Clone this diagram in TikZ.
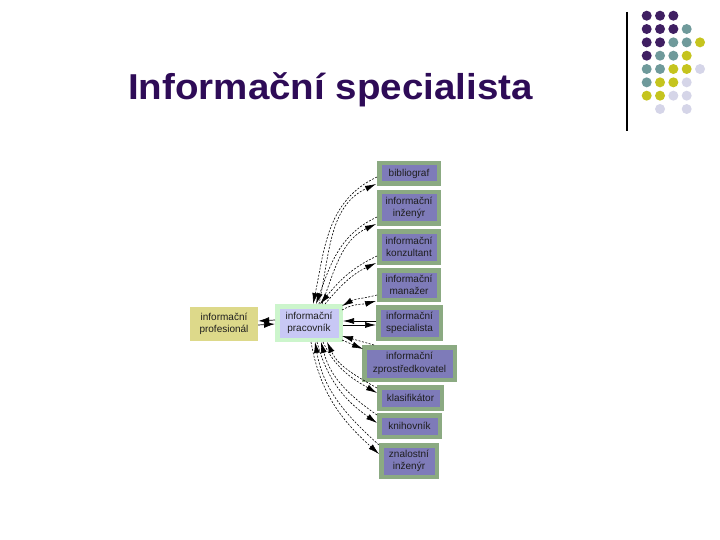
\documentclass[tikz,border=0pt]{standalone}
\usepackage{fontspec}
\setmainfont{Liberation Sans}
\usetikzlibrary{arrows.meta}
\definecolor{titlec}{HTML}{2E0B57}
\definecolor{gOut}{HTML}{8BAA82}
\definecolor{lIn}{HTML}{7E7BB9}
\definecolor{pOut}{HTML}{CCF5CC}
\definecolor{pIn}{HTML}{C8C8F5}
\definecolor{khaki}{HTML}{DDD98A}
\definecolor{dotP}{HTML}{3F1F62}
\definecolor{dotT}{HTML}{6F9A9B}
\definecolor{dotY}{HTML}{C5C41E}
\definecolor{dotL}{HTML}{D5D5E8}
\definecolor{txt}{HTML}{1E1E1E}
\tikzset{
  boxfont/.style={font=\fontsize{10}{12.5}\selectfont},
  rbox/.style={draw=gOut, fill=lIn, line width=4.5pt, inner sep=0pt, align=center,
    text=txt, boxfont},
  conn/.style={line width=0.6pt, dash pattern=on 2pt off 1.5pt, black},
  solidc/.style={line width=0.7pt, black},
  hd/.style={-{Latex[length=11pt,width=6pt]}}
}
\begin{document}
\begin{tikzpicture}[x=1pt,y=-1pt]
\useasboundingbox (0,0) rectangle (720,540);
% title
\node[anchor=base west, inner sep=0pt, text=titlec, font=\fontsize{36}{40}\selectfont\bfseries] (title) at (128,100) {\scalebox{1.07}[1]{Informační specialista}};
% vertical rule
\draw[line width=1.2pt, black] (627,12) coordinate (r1) -- (627,131) coordinate (r2);
% dots
\foreach \c/\x/\y in {dotP/0/0,dotP/1/0,dotP/2/0,
  dotP/0/1,dotP/1/1,dotP/2/1,dotT/3/1,
  dotP/0/2,dotP/1/2,dotT/2/2,dotT/3/2,dotY/4/2,
  dotP/0/3,dotT/1/3,dotT/2/3,dotY/3/3,
  dotT/0/4,dotT/1/4,dotY/2/4,dotY/3/4,dotL/4/4,
  dotT/0/5,dotY/1/5,dotY/2/5,dotL/3/5,
  dotY/0/6,dotY/1/6,dotL/2/6,dotL/3/6,
  dotL/1/7,dotL/3/7}
  \fill[\c] ({646.7+13.33*\x},{15.7+13.33*\y}) circle[radius=5pt];
% boxes
\node[fill=khaki, inner sep=0pt, minimum width=68pt, minimum height=34pt, align=center, text=txt, boxfont] (pf) at (224,324) {informační\\profesionál};
\node[rbox, draw=pOut, fill=pIn, minimum width=63.5pt, minimum height=33.5pt] (pr) at (309,323) {informační\\pracovník};
\node[rbox, minimum width=59.5pt, minimum height=20.5pt] (b1) at (409,173.5) {bibliograf};
\node[rbox, minimum width=59.5pt, minimum height=31.5pt] (b2) at (409,208) {informační\\inženýr};
\node[rbox, minimum width=59.5pt, minimum height=31.5pt] (b3) at (409,247) {informační\\konzultant};
\node[rbox, minimum width=59.5pt, minimum height=29.5pt] (b4) at (409,285) {informační\\manažer};
\node[rbox, minimum width=62.5pt, minimum height=31.5pt] (b5) at (409.5,323) {informační\\specialista};
\node[rbox, minimum width=90.5pt, minimum height=32.5pt] (b6) at (409.5,363.5) {informační\\zprostředkovatel};
\node[rbox, minimum width=62.5pt, minimum height=21.5pt] (b7) at (410.5,398) {klasifikátor};
\node[rbox, minimum width=60.5pt, minimum height=21.5pt] (b8) at (409.5,426) {knihovník};
\node[rbox, minimum width=55.5pt, minimum height=31.5pt] (b9) at (409,461) {znalostní\\inženýr};
% left pair
\draw[solidc, -{Latex[length=11pt,width=6.5pt]}] ([yshift=3pt]pr.west) -- ([yshift=3pt]pf.east);
\draw[solidc, -{Latex[length=11pt,width=6.5pt]}] ([yshift=-1pt]pf.east) -- ([yshift=-1pt]pr.west);
% top group
\draw[conn, hd] ([yshift=9pt]b1.south west) to[out=205,in=78] ([xshift=4pt]pr.north);
\draw[conn, hd] ([xshift=10pt]pr.north) to[out=78,in=205] ([xshift=-1pt,yshift=2pt]b1.south west);
\draw[conn, hd] ([yshift=9pt]b2.south west) to[out=205,in=70] ([xshift=7pt]pr.north);
\draw[conn, hd] ([xshift=13pt]pr.north) to[out=70,in=205] ([xshift=-1pt,yshift=2pt]b2.south west);
\draw[conn, hd] ([yshift=9pt]b3.south west) to[out=205,in=50] ([xshift=11pt]pr.north);
\draw[conn, hd] ([xshift=16pt]pr.north) to[out=50,in=205] ([xshift=-1pt,yshift=2pt]b3.south west);
\draw[conn, hd] ([yshift=7pt]b4.south west) to[out=195,in=30] ([xshift=-1pt,yshift=-2pt]pr.north east);
\draw[conn, hd] ([xshift=-1pt,yshift=-6pt]pr.north east) to[out=30,in=195] ([xshift=-1pt,yshift=1pt]b4.south west);
% specialista (solid)
\draw[solidc, hd] ([yshift=2pt]b5.west) -- ([yshift=2pt]pr.east);
\draw[solidc, hd] ([yshift=-2pt]pr.east) -- ([yshift=-2pt]b5.west);
% zprostredkovatel
\draw[conn, hd] ([xshift=12pt]b6.north west) -- ([xshift=-1pt,yshift=6pt]pr.south east);
\draw[conn, hd] ([xshift=-1pt,yshift=2pt]pr.south east) -- ([xshift=1pt,yshift=-4pt]b6.north west);
% bottom group
\draw[conn, hd] ([yshift=-3pt]b7.north west) to[out=150,in=-65] ([xshift=18pt]pr.south);
\draw[conn, hd] ([xshift=14pt]pr.south) to[out=-65,in=150] ([yshift=-8pt]b7.north west);
\draw[conn, hd] ([yshift=-2pt]b8.north west) to[out=145,in=-75] ([xshift=12pt]pr.south);
\draw[conn, hd] ([xshift=8pt]pr.south) to[out=-75,in=145] ([yshift=-10pt]b8.north west);
\draw[conn, hd] ([yshift=-2pt]b9.north west) to[out=138,in=-80] ([xshift=6pt]pr.south);
\draw[conn, hd] ([xshift=2pt]pr.south) to[out=-80,in=138] ([yshift=-11pt]b9.north west);
\end{tikzpicture}
\end{document}
